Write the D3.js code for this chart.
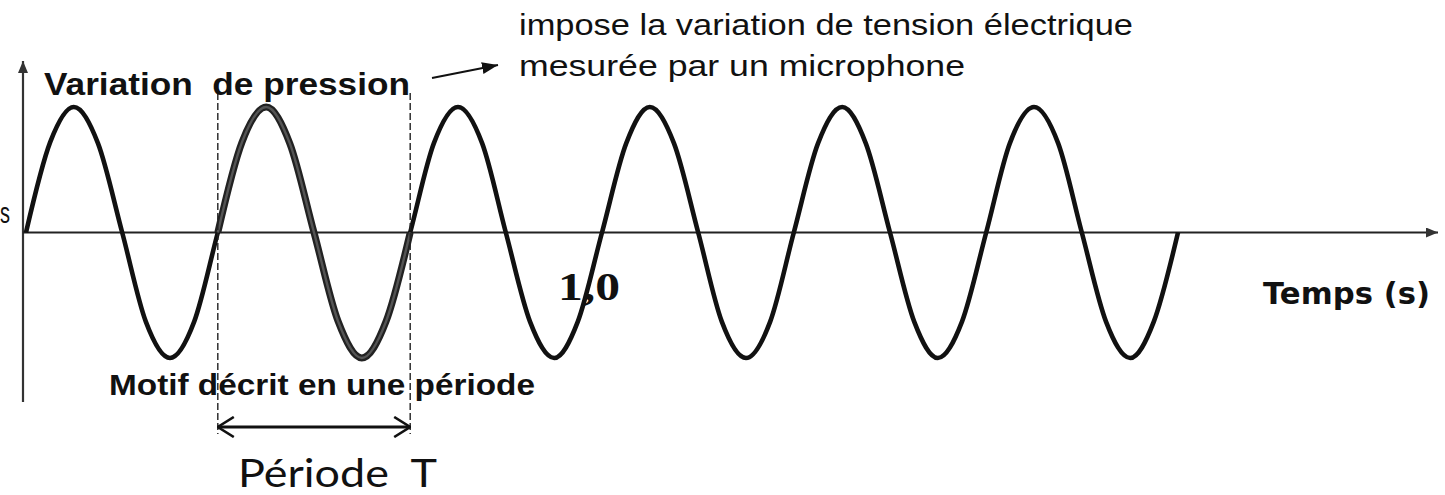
<!DOCTYPE html>
<html>
<head>
<meta charset="utf-8">
<script src="https://cdn.jsdelivr.net/npm/d3@7"></script>
<style>
  html, body { margin: 0; padding: 0; background: #ffffff; }
  svg { display: block; }
  text { white-space: pre; }
</style>
</head>
<body>
<svg id="chart" width="1445" height="495"></svg>
<script>
// ---- data ----
// time in seconds (6 periods over 2.0 s, sampled at eighths of a period)
const times = [
  0.000, 0.042, 0.083, 0.125, 0.167, 0.208, 0.250, 0.292,
  0.333, 0.375, 0.417, 0.458, 0.500, 0.542, 0.583, 0.625,
  0.667, 0.708, 0.750, 0.792, 0.833, 0.875, 0.917, 0.958,
  1.000, 1.042, 1.083, 1.125, 1.167, 1.208, 1.250, 1.292,
  1.333, 1.375, 1.417, 1.458, 1.500, 1.542, 1.583, 1.625,
  1.667, 1.708, 1.750, 1.792, 1.833, 1.875, 1.917, 1.958,
  2.000
];
// pressure variation (arbitrary units)
const pressure = [
  0.00, 0.72, 1.00, 0.71, 0.00, -0.71, -1.00, -0.71,
  0.00, 0.72, 1.00, 0.71, 0.00, -0.71, -1.00, -0.71,
  0.00, 0.71, 1.00, 0.71, 0.00, -0.71, -1.00, -0.71,
  0.00, 0.71, 1.00, 0.71, 0.00, -0.71, -1.00, -0.71,
  0.00, 0.71, 1.00, 0.71, 0.00, -0.71, -1.00, -0.71,
  0.00, 0.71, 1.00, 0.71, 0.00, -0.71, -1.00, -0.71,
  0.00
];
// highlighted period (start, end) in seconds
const periodBounds = [0.333, 0.667];
const tickValues = [1.0];
const tickLabels = ["1,0"];

// ---- layout ----
const svg = d3.select("#chart");
const x = d3.scaleLinear().domain([0, 2.0]).range([26, 1178]);
const y = d3.scaleLinear().domain([-1, 1]).range([358, 107]);

const pts = times.map((t, i) => ({t, p: pressure[i]}));

const line = d3.line()
  .x(d => x(d.t))
  .y(d => y(d.p))
  .curve(d3.curveMonotoneX);

// defs: arrowheads
const defs = svg.append("defs");
defs.append("marker").attr("id", "arrFill")
  .attr("viewBox", "0 0 12 10").attr("refX", 12).attr("refY", 5)
  .attr("markerWidth", 12).attr("markerHeight", 10)
  .attr("markerUnits", "userSpaceOnUse").attr("orient", "auto")
  .append("path").attr("d", "M0,0 L12,5 L0,10 Z").attr("fill", "#333");

defs.append("marker").attr("id", "arrFillBig")
  .attr("viewBox", "0 0 16 12").attr("refX", 16).attr("refY", 6)
  .attr("markerWidth", 16).attr("markerHeight", 12)
  .attr("markerUnits", "userSpaceOnUse").attr("orient", "auto")
  .append("path").attr("d", "M0,0 L16,6 L0,12 Z").attr("fill", "#111");

defs.append("marker").attr("id", "chev")
  .attr("viewBox", "0 0 18 22").attr("refX", 17).attr("refY", 11)
  .attr("markerWidth", 18).attr("markerHeight", 22)
  .attr("markerUnits", "userSpaceOnUse").attr("orient", "auto-start-reverse")
  .append("path").attr("d", "M1,1 L17,11 L1,21")
  .attr("fill", "none").attr("stroke", "#111").attr("stroke-width", 2.6);

// ---- axes ----
const y0 = y(0);
// vertical axis
svg.append("line")
  .attr("x1", 23).attr("y1", 402).attr("x2", 23).attr("y2", 61)
  .attr("stroke", "#333").attr("stroke-width", 2.2)
  .attr("marker-end", "url(#arrFill)");
// horizontal axis
svg.append("line")
  .attr("x1", 23).attr("y1", y0).attr("x2", 1438).attr("y2", y0)
  .attr("stroke", "#222").attr("stroke-width", 2)
  .attr("marker-end", "url(#arrFill)");

// ---- wave ----
svg.append("path").datum(pts)
  .attr("d", line)
  .attr("fill", "none").attr("stroke", "#111")
  .attr("stroke-width", 4.6).attr("stroke-linejoin", "round");

// highlighted period (thicker gray overlay)
const seg = pts.filter(d => d.t >= periodBounds[0] - 1e-9 && d.t <= periodBounds[1] + 1e-9);
svg.append("path").datum(seg)
  .attr("d", line)
  .attr("fill", "none").attr("stroke", "#222")
  .attr("stroke-width", 7).attr("stroke-linejoin", "round");
svg.append("path").datum(seg)
  .attr("d", line)
  .attr("fill", "none").attr("stroke", "#555")
  .attr("stroke-width", 2.4).attr("stroke-linejoin", "round");

// dashed period bounds
svg.selectAll("line.dash").data(periodBounds).enter().append("line")
  .attr("class", "dash")
  .attr("x1", d => x(d)).attr("x2", d => x(d))
  .attr("y1", 93).attr("y2", 434)
  .attr("stroke", "#222").attr("stroke-width", 1.4)
  .attr("stroke-dasharray", "7,3");

// double arrow for period
svg.append("line")
  .attr("x1", x(periodBounds[0])).attr("x2", x(periodBounds[1]))
  .attr("y1", 427).attr("y2", 427)
  .attr("stroke", "#111").attr("stroke-width", 2.8)
  .attr("marker-start", "url(#chev)").attr("marker-end", "url(#chev)");

// ---- tick label ----
svg.selectAll("text.tick").data(tickValues).enter().append("text")
  .attr("class", "tick")
  .attr("x", d => x(d) - 44).attr("y", 300)
  .attr("font-family", "Liberation Serif, serif")
  .attr("font-weight", "bold").attr("font-size", 40)
  .attr("textLength", 62).attr("lengthAdjust", "spacingAndGlyphs")
  .attr("fill", "#111")
  .text((d, i) => tickLabels[i]);

// ---- texts ----
function txt(s, xx, yy, opts) {
  const t = svg.append("text")
    .attr("x", xx).attr("y", yy)
    .attr("font-family", opts.family || "Liberation Sans, Arial, sans-serif")
    .attr("font-weight", opts.weight || "normal")
    .attr("font-size", opts.size)
    .attr("fill", opts.fill || "#111")
    .text(s);
  if (opts.len) t.attr("textLength", opts.len).attr("lengthAdjust", "spacingAndGlyphs");
  if (opts.anchor) t.attr("text-anchor", opts.anchor);
  return t;
}

txt("impose la variation de tension électrique", 519, 35, {size: 30, len: 614});
txt("mesurée par un microphone", 519, 76, {size: 30, len: 446});
txt("Variation  de pression", 44, 95, {size: 31, weight: "bold", len: 366});
txt("Motif décrit en une période", 109, 395, {size: 29, weight: "bold", len: 426});
txt("Temps (s)", 1263, 304, {size: 31, weight: "bold", len: 167, family: "DejaVu Sans, sans-serif"});
txt("Période  T", 238, 487, {size: 39, len: 199, family: "Lato, Open Sans, sans-serif"});
txt("s", 0, 223, {size: 30, len: 10});

// annotation arrow
svg.append("line")
  .attr("x1", 432).attr("y1", 78).attr("x2", 498).attr("y2", 65)
  .attr("stroke", "#111").attr("stroke-width", 2)
  .attr("marker-end", "url(#arrFillBig)");
</script>
</body>
</html>
